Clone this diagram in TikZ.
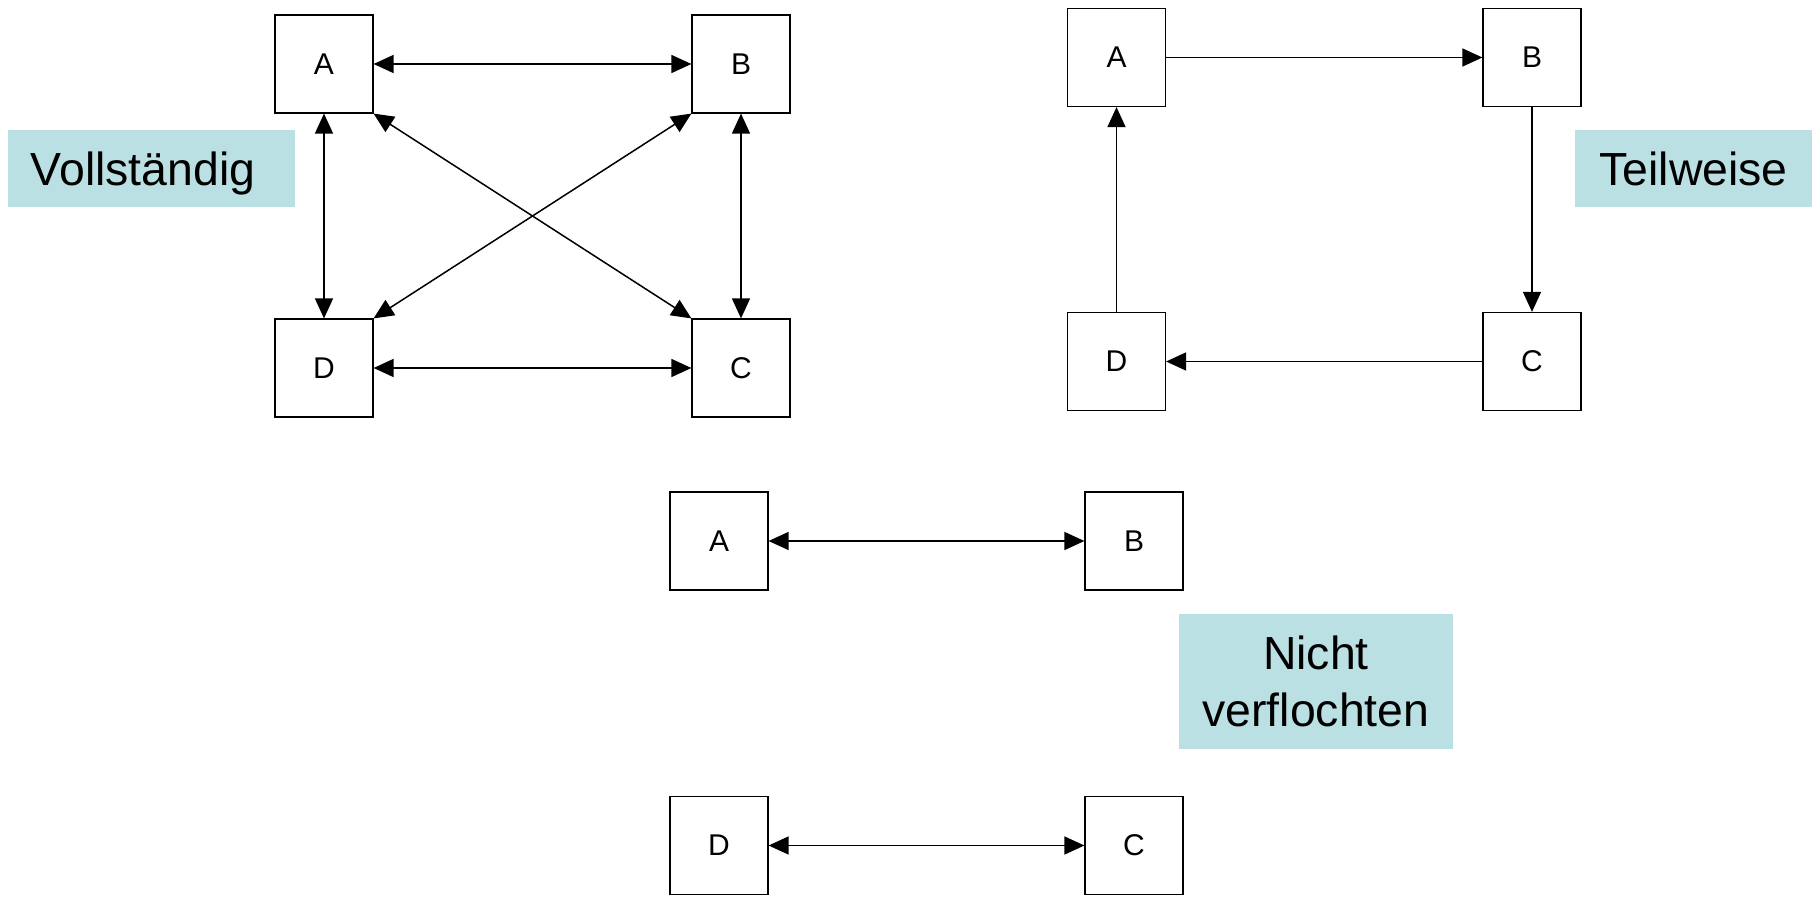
\documentclass[tikz,border=0pt]{standalone}
\usepackage{fontspec}
\setmainfont{Liberation Sans}
\usetikzlibrary{arrows.meta}
\definecolor{labelteal}{RGB}{187,224,227}
\begin{document}
\begin{tikzpicture}[x=0.5pt,y=-0.5pt,
  stationbox/.style={draw=black, line width=0.6pt, minimum width=49pt, minimum height=49pt, inner sep=0pt, font=\fontsize{15pt}{18pt}\selectfont},
  tagbox/.style={fill=labelteal, inner sep=0pt, font=\fontsize{23.2pt}{28.5pt}\selectfont},
  link/.style={line width=0.75pt, -{Triangle[length=10pt,width=9pt]}},
  dlink/.style={line width=0.75pt, {Triangle[length=10pt,width=9pt]}-{Triangle[length=10pt,width=9pt]}}
]
\useasboundingbox (0,0) rectangle (1812,897);

% Vollstaendig
\node[stationbox] (lA) at (324,64) {A};
\node[stationbox] (lB) at (741,64) {B};
\node[stationbox] (lD) at (324,368) {D};
\node[stationbox] (lC) at (741,368) {C};
\draw[dlink] (lA) -- (lB);
\draw[dlink] (lA) -- (lD);
\draw[dlink] (lB) -- (lC);
\draw[dlink] (lD) -- (lC);
\draw[dlink] (lA.south east) -- (lC.north west);
\draw[dlink] (lB.south west) -- (lD.north east);
\node[tagbox, minimum width=143.5pt, minimum height=38.5pt, text width=120.5pt, inner xsep=11.5pt, align=left, text height=16.6pt, text depth=0pt] (lbl1) at (151.5,168.5) {Vollständig};

% Teilweise
\node[stationbox] (rA) at (1116.5,57.5) {A};
\node[stationbox] (rB) at (1532,57.5) {B};
\node[stationbox] (rD) at (1116.5,361.5) {D};
\node[stationbox] (rC) at (1532,361.5) {C};
\draw[link] (rA) -- (rB);
\draw[link] (rB) -- (rC);
\draw[link] (rC) -- (rD);
\draw[link] (rD) -- (rA);
\node[tagbox, minimum width=118.5pt, minimum height=38.5pt, text height=16.6pt, text depth=0pt] (lbl2) at (1693.5,168.5) {Teilweise};

% Nicht verflochten
\node[stationbox] (bA) at (719,541) {A};
\node[stationbox] (bB) at (1134,541) {B};
\node[stationbox] (bD) at (719,845.5) {D};
\node[stationbox] (bC) at (1134,845.5) {C};
\draw[dlink] (bA) -- (bB);
\draw[dlink] (bD) -- (bC);
\node[tagbox, minimum width=137pt, minimum height=67.5pt, align=center] (lbl3) at (1316,681.5) {Nicht\\verflochten};
\end{tikzpicture}
\end{document}
